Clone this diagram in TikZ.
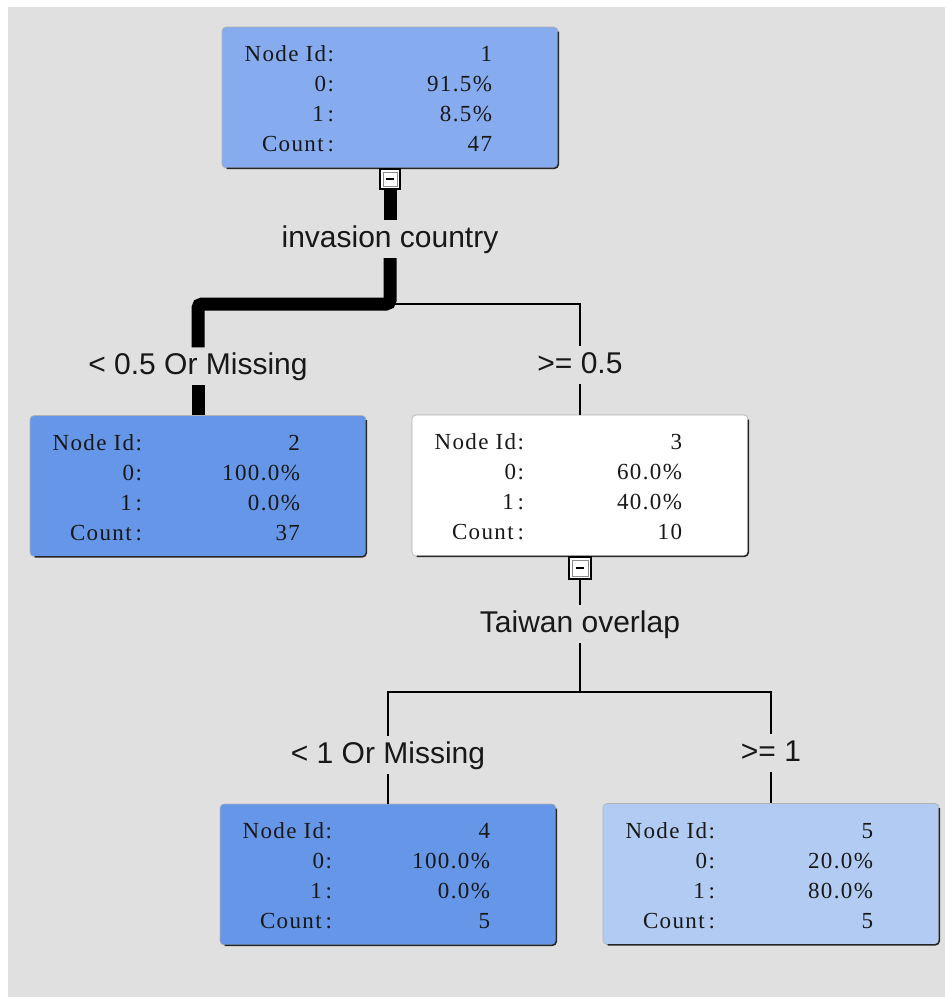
\documentclass[tikz,border=0pt]{standalone}
\usepackage{fontspec}
\usepackage{array}
\newfontfamily\statfont[LetterSpace=6]{Liberation Serif}
\newfontfamily\labelfont{Liberation Sans}

\definecolor{canvas}{RGB}{224,224,224}
\definecolor{rootblue}{RGB}{134,171,238}
\definecolor{pureblue}{RGB}{101,150,232}
\definecolor{paleblue}{RGB}{178,203,242}
\definecolor{inktext}{RGB}{24,24,24}

% four-row statistics table shown inside every tree node
\newcommand{\nodestats}[4]{%
  \makebox[298pt][l]{%
    \begin{tabular}{@{}r@{}r@{}}
      \rule{0pt}{27pt}\makebox[93pt][r]{Node Id:} & \makebox[158pt][r]{#1}\\
      0: & #2\\
      1\,: & #3\\
      Count\,: & #4
    \end{tabular}}}

\tikzset{
  treebox/.style={rectangle, rounded corners=4pt, minimum width=336pt,
    minimum height=141pt, inner sep=0pt, draw=black!30, line width=0.6pt,
    text=inktext, font=\statfont\fontsize{23}{30}\selectfont},
  boxshade/.style={draw=black!85, line width=1.6pt, rounded corners=4pt},
  splitlabel/.style={font=\labelfont\fontsize{30}{36}\selectfont, text=inktext,
    text height=21.5pt, text depth=6pt, inner xsep=2pt, inner ysep=5pt, anchor=base},
  toggle/.style={rectangle, minimum size=20pt, inner sep=0pt, fill=white,
    draw=black, line width=1.2pt,
    path picture={
      \draw[black!45, line width=0.8pt]
        ([shift={(3pt,-3pt)}]path picture bounding box.north west) rectangle
        ([shift={(-3pt,3pt)}]path picture bounding box.south east);
      \draw[black, line width=2pt]
        ([xshift=-4pt]path picture bounding box.center) --
        ([xshift=4pt]path picture bounding box.center);
    }},
  heavyedge/.style={draw=black, line width=13pt, rounded corners=4pt},
  lightedge/.style={draw=black, line width=2.4pt},
  fineedge/.style={draw=black, line width=2pt},
}

\begin{document}
\begin{tikzpicture}[x=1pt, y=-1pt]
  \useasboundingbox (0,0) rectangle (947,997);
  \fill[canvas] (8,7) rectangle (945,997);

  % tree nodes
  \node[treebox, fill=rootblue] (n1) at (390,97.5) {\nodestats{1}{91.5\%}{8.5\%}{47}};
  \node[treebox, fill=pureblue] (n2) at (198,486) {\nodestats{2}{100.0\%}{0.0\%}{37}};
  \node[treebox, fill=white]    (n3) at (580,485.5) {\nodestats{3}{60.0\%}{40.0\%}{10}};
  \node[treebox, fill=pureblue] (n4) at (388,874.5) {\nodestats{4}{100.0\%}{0.0\%}{5}};
  \node[treebox, fill=paleblue] (n5) at (771,874) {\nodestats{5}{20.0\%}{80.0\%}{5}};

  % dark lower-right rim of each box
  \foreach \b in {n1,n2,n3,n4,n5}{
    \draw[boxshade] ([yshift=-5pt]\b.north east) -- (\b.south east) -- ([xshift=5pt]\b.south west);
  }

  % collapse toggles under the split nodes
  \node[toggle, anchor=north] (s1) at (n1.south) {};
  \node[toggle, anchor=north, minimum size=22pt] (s3) at (n3.south) {};

  % split variables and branch conditions
  \node[splitlabel] (v1) at (390,247) {invasion country};
  \node[splitlabel] (c2) at (198,374) {< 0.5 Or Missing};
  \node[splitlabel] (c3) at (580,373) {>= 0.5};
  \node[splitlabel] (v3) at (580,632) {Taiwan overlap};
  \node[splitlabel] (c4) at (388,763) {< 1 Or Missing};
  \node[splitlabel] (c5) at (771,761) {>= 1};

  \coordinate (j1) at (390,304);
  \coordinate (j3) at (580,692);

  % branches of the first split (line weight follows the case count)
  \draw[lightedge] (j1) -| (c3.north);
  \draw[lightedge] (c3.south) -- (n3.north);
  \draw[heavyedge] (s1.south) -- (v1.north);
  \draw[heavyedge] (v1.south) -- (j1) -| (c2.north);
  \draw[heavyedge] (c2.south) -- (n2.north);

  % branches of the second split
  \draw[fineedge] (s3.south) -- (v3.north);
  \draw[fineedge] (v3.south) -- (j3);
  \draw[fineedge] (j3) -| (c4.north);
  \draw[fineedge] (j3) -| (c5.north);
  \draw[fineedge] (c4.south) -- (n4.north);
  \draw[fineedge] (c5.south) -- (n5.north);
\end{tikzpicture}
\end{document}
